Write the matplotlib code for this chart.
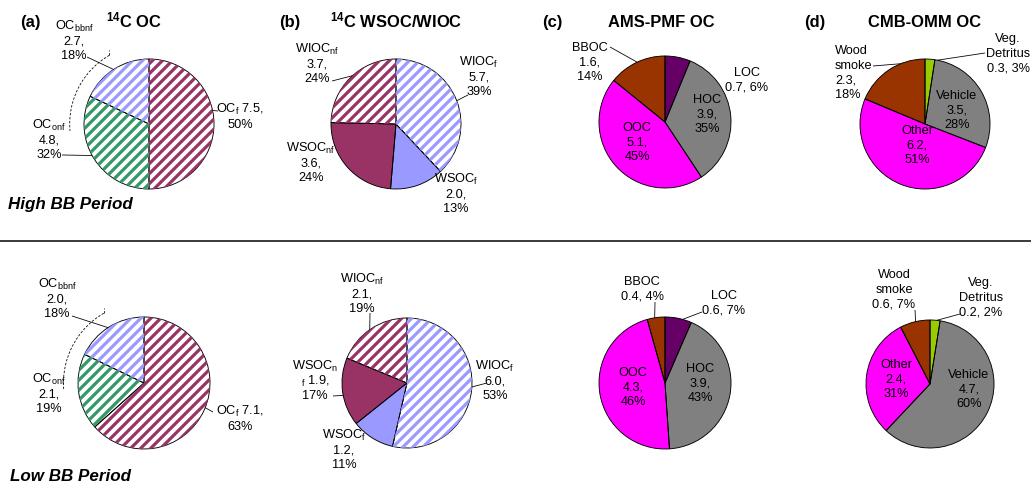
import numpy as np
import matplotlib
matplotlib.use('Agg')
import matplotlib.pyplot as plt
from matplotlib.patches import Arc
from matplotlib.collections import LineCollection

DPI = 100
W, H = 1031, 484


def pt(px):
    # pixel size -> points at this dpi
    return px * 72.0 / DPI


plt.rcParams['font.family'] = ['Liberation Sans', 'DejaVu Sans']
plt.rcParams['mathtext.fontset'] = 'custom'
plt.rcParams['mathtext.rm'] = 'Liberation Sans'
plt.rcParams['mathtext.it'] = 'Liberation Sans:italic'
plt.rcParams['mathtext.bf'] = 'Liberation Sans:bold'

# ---- data ----
c14_names = [r'OC$_\mathrm{f}$', r'OC$_\mathrm{onf}$', r'OC$_\mathrm{bbnf}$']
c14_high = [7.5, 4.8, 2.7]
c14_high_pct = [50, 32, 18]
c14_low = [7.1, 2.1, 2.0]
c14_low_pct = [63, 19, 18]

ws_names = [r'WIOC$_\mathrm{f}$', r'WSOC$_\mathrm{f}$', r'WSOC$_\mathrm{nf}$', r'WIOC$_\mathrm{nf}$']
ws_high = [5.7, 2.0, 3.6, 3.7]
ws_high_pct = [39, 13, 24, 24]
ws_low = [6.0, 1.2, 1.9, 2.1]
ws_low_pct = [53, 11, 17, 19]

ams_names = ['LOC', 'HOC', 'OOC', 'BBOC']
ams_high = [0.7, 3.9, 5.1, 1.6]
ams_high_pct = [6, 35, 45, 14]
ams_low = [0.6, 3.9, 4.3, 0.4]
ams_low_pct = [7, 43, 46, 4]

cmb_names = ['Veg.\nDetritus', 'Vehicle', 'Other', 'Wood\nsmoke']
cmb_high = [0.3, 3.5, 6.2, 2.3]
cmb_high_pct = [3, 28, 51, 18]
cmb_low = [0.2, 4.7, 2.4, 0.6]
cmb_low_pct = [2, 60, 31, 7]

panel_tags = ['(a)', '(b)', '(c)', '(d)']
panel_titles = [r'$^{\mathbf{14}}$C OC', r'$^{\mathbf{14}}$C WSOC/WIOC', 'AMS-PMF OC', 'CMB-OMM OC']
periods = ['High BB Period', 'Low BB Period']

# ---- styles ----
MAROON = '#993366'
LBLUE = '#9999FF'
GREEN = '#339966'
c14_colors = [MAROON, GREEN, LBLUE]
c14_hatch = [True, True, True]
ws_colors = [LBLUE, LBLUE, MAROON, MAROON]
ws_hatch = [True, False, False, True]
src_colors = ['#660066', '#808080', '#FF00FF', '#993300']
cmb_colors = ['#99CC00', '#808080', '#FF00FF', '#993300']
no_hatch = [False] * 4

T3 = '<n>\n<v>,\n<p>%'
T2 = '<n>\n<v>, <p>%'
TF = '<n> <v>,\n<p>%'

# layout, pixel coords from top-left: label = (template, x, y_center, ha, leader)
# leader = (x_text_side, y_text_side, angle_on_rim)
panels = [
    dict(vals=c14_high, pct=c14_high_pct, names=c14_names, colors=c14_colors, hatch=c14_hatch,
         center=(149, 124), r=65, bracket=True,
         labels=[(TF, 240, 116, 'center', (218, 111, 12)),
                 (T3, 49, 139, 'center', (62, 155, 209)),
                 (T3, 74, 40, 'center', (87, 57, 123))]),
    dict(vals=ws_high, pct=ws_high_pct, names=ws_names, colors=ws_colors, hatch=ws_hatch,
         center=(396, 124), r=65, bracket=False,
         labels=[(T3, 479, 76, 'center', (468, 95, 21)),
                 (T3, 456, 193, 'center', None),
                 (T3, 311, 162, 'center', None),
                 (T3, 317, 63, 'center', (332, 81, 132))]),
    dict(vals=ams_high, pct=ams_high_pct, names=ams_names, colors=src_colors, hatch=no_hatch,
         center=(665, 122), r=66, bracket=False,
         labels=[(T2, 747, 79, 'center', None),
                 (T3, 707, 113, 'center', None),
                 (T3, 637, 141, 'center', None),
                 (T3, 590, 61, 'center', (610, 47, 115))]),
    dict(vals=cmb_high, pct=cmb_high_pct, names=cmb_names, colors=cmb_colors, hatch=no_hatch,
         center=(925, 124), r=65, bracket=False,
         labels=[(T2, 1008, 52, 'center', (985, 53, 79)),
                 (T3, 957, 109, 'center', None),
                 (T3, 917, 144, 'center', None),
                 (T3, 835, 71.5, 'left', (873, 66, 112))]),
    dict(vals=c14_low, pct=c14_low_pct, names=c14_names, colors=c14_colors, hatch=c14_hatch,
         center=(144, 383), r=66, bracket=True,
         labels=[(TF, 240, 418, 'center', (213, 412, -22)),
                 (T3, 49, 392.5, 'center', None),
                 (T3, 57, 297.5, 'center', (72, 316, 123))]),
    dict(vals=ws_low, pct=ws_low_pct, names=ws_names, colors=ws_colors, hatch=ws_hatch,
         center=(407, 383), r=65, bracket=False,
         labels=[(T3, 495, 380, 'center', (487, 383, -3.5)),
                 (T3, 344, 449, 'center', None),
                 ('WSOC$_\\mathrm{n}$\n$_\\mathrm{f}$ <v>,\n<p>%', 315, 380, 'center', (333, 396, 191)),
                 (T3, 362, 292.5, 'center', (370, 313, 125))]),
    dict(vals=ams_low, pct=ams_low_pct, names=ams_names, colors=src_colors, hatch=no_hatch,
         center=(665, 383), r=66, bracket=False,
         labels=[(T2, 724, 302, 'center', (702, 312, 74.5)),
                 (T3, 700, 382, 'center', None),
                 (T3, 633, 386, 'center', None),
                 (T2, 642, 288, 'center', (655, 302, 99))]),
    dict(vals=cmb_low, pct=cmb_low_pct, names=cmb_names, colors=cmb_colors, hatch=no_hatch,
         center=(930, 384), r=64, bracket=False,
         labels=[(T2, 981, 296, 'center', (960, 314, 84)),
                 (T3, 969, 387.5, 'center', None),
                 (T3, 896, 377.5, 'center', None),
                 (T2, 894, 288, 'center', (915, 310, 103))]),
]
tag_x = [30, 290, 552, 815]
title_x = [134.5, 396, 661, 925]

FS_LAB = pt(12.8)
FS_TITLE = pt(16.5)
FS_PERIOD = pt(17)
PITCH = 14.5
HATCH_STEP = 10      # px between stripes, measured along x
HATCH_LW = pt(3.2)


def Y(y):
    return H - y


def put_label(ax, text, x, yc, ha):
    lines = text.split('\n')
    n = len(lines)
    for i, line in enumerate(lines):
        ymid = yc + (i - (n - 1) / 2.0) * PITCH
        ax.text(x, Y(ymid + 4.6), line, ha=ha, va='baseline', fontsize=FS_LAB, color='black')


def hatch_wedge(ax, wedge, color, cx, cy, r):
    # diagonal "/" stripes clipped to the wedge
    offs = np.arange(-2 * r, 2 * r + HATCH_STEP, HATCH_STEP)
    segs = [[(cx - r, cy - r + c), (cx + r, cy + r + c)] for c in offs]
    lc = LineCollection(segs, colors=color, linewidths=HATCH_LW, capstyle='butt')
    ax.add_collection(lc)
    lc.set_clip_path(wedge)


fig = plt.figure(figsize=((W + 0.01) / DPI, (H + 0.01) / DPI), dpi=DPI)
ax = fig.add_axes([0, 0, 1, 1])

for p in panels:
    cx, cy = p['center']
    r = p['r']
    wedges, _ = ax.pie(p['vals'], colors=p['colors'], startangle=90, counterclock=False,
                       center=(cx, Y(cy)), radius=r, frame=True,
                       wedgeprops=dict(linewidth=0))
    for w, col, h in zip(wedges, p['colors'], p['hatch']):
        if h:
            w.set_facecolor('white')
            hatch_wedge(ax, w, col, cx, Y(cy), r)
    ax.pie(p['vals'], startangle=90, counterclock=False, center=(cx, Y(cy)), radius=r,
           frame=True, wedgeprops=dict(fill=False, edgecolor='black', linewidth=pt(0.9)))

    for (tmpl, x, yc, ha, leader), name, v, pc in zip(p['labels'], p['names'], p['vals'], p['pct']):
        txt = tmpl.replace('<n>', name).replace('<v>', '%.1f' % v).replace('<p>', '%d' % pc)
        put_label(ax, txt, x, yc, ha)
        if leader is not None:
            x0, y0, ang = leader
            a = np.radians(ang)
            ax.plot([x0, cx + r * np.cos(a)], [Y(y0), Y(cy) + r * np.sin(a)],
                    color='black', lw=pt(0.8), solid_capstyle='butt')

    if p['bracket']:
        rb = 1.22 * r
        ax.add_patch(Arc((cx, Y(cy)), 2 * rb, 2 * rb, theta1=120, theta2=185,
                         color='black', lw=pt(0.8), linestyle=(0, (3, 2))))
        a = np.radians(120)
        tx, ty = cx + rb * np.cos(a), Y(cy) + rb * np.sin(a)
        ax.plot([tx, tx], [ty, ty + 5], color='black', lw=pt(0.8), linestyle=(0, (3, 2)))

for tag, tx, title, ttx in zip(panel_tags, tag_x, panel_titles, title_x):
    ax.text(tx, Y(27), tag, ha='center', va='baseline', fontsize=FS_TITLE, fontweight='bold')
    ax.text(ttx, Y(27), title, ha='center', va='baseline', fontsize=FS_TITLE, fontweight='bold')

ax.text(8, Y(209), periods[0], ha='left', va='baseline', fontsize=FS_PERIOD,
        fontweight='bold', fontstyle='italic')
ax.text(10, Y(481), periods[1], ha='left', va='baseline', fontsize=FS_PERIOD,
        fontweight='bold', fontstyle='italic')

ax.axhline(Y(241.5), color='black', lw=pt(1.5))

ax.set_xlim(0, W)
ax.set_ylim(0, H)
ax.set_aspect('equal')
ax.set_axis_off()

fig.savefig('out.png', dpi=DPI)
